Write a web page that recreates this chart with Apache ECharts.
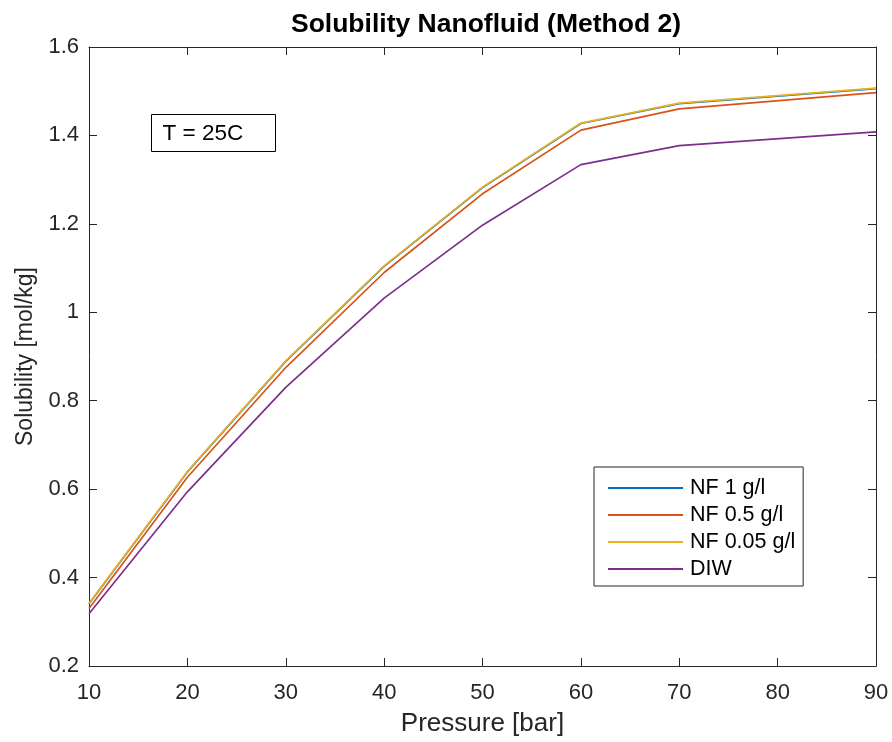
<!DOCTYPE html>
<html><head><meta charset="utf-8">
<script src="https://cdn.jsdelivr.net/npm/echarts@6/dist/echarts.min.js"></script>
<style>html,body{margin:0;padding:0;background:#fff}#c{width:892px;height:742px}</style>
</head><body><div id="c"></div>
<script>
const pressure = [10, 20, 30, 40, 50, 60, 70, 90];
const nf1 = [0.341, 0.639, 0.889, 1.104, 1.282, 1.427, 1.472, 1.506];
const nf05 = [0.330, 0.627, 0.875, 1.090, 1.268, 1.412, 1.460, 1.497];
const nf005 = [0.342, 0.640, 0.890, 1.105, 1.283, 1.428, 1.473, 1.507];
const diw = [0.318, 0.594, 0.830, 1.032, 1.197, 1.334, 1.377, 1.408];
const seriesNames = ['NF 1 g/l', 'NF 0.5 g/l', 'NF 0.05 g/l', 'DIW'];
const colors = ['#0072BD', '#D95319', '#EDB120', '#7E2F8E'];
const xTicks = {min: 10, max: 90, interval: 10};
const yTicks = {min: 0.2, max: 1.6, interval: 0.2};

const FONT = 'Liberation Sans, Arial, Helvetica, sans-serif';
const axisCol = '#262626';
const chart = echarts.init(document.getElementById('c'), null, {renderer: 'canvas'});
const zip = a => pressure.map((p, i) => [p, a[i]]);
const allData = [nf1, nf05, nf005, diw];

const baseX = {type: 'value', min: xTicks.min, max: xTicks.max, interval: xTicks.interval,
  axisLine: {onZero: false, lineStyle: {color: axisCol, width: 1}},
  axisTick: {inside: true, length: 8, lineStyle: {color: axisCol}},
  splitLine: {show: false}};
const baseY = {type: 'value', min: yTicks.min, max: yTicks.max, interval: yTicks.interval,
  axisLine: {show: true, onZero: false, lineStyle: {color: axisCol, width: 1}},
  axisTick: {show: true, inside: true, length: 8, lineStyle: {color: axisCol}},
  splitLine: {show: false}};

chart.setOption({
  animation: false,
  backgroundColor: '#fff',
  textStyle: {fontFamily: FONT},
  title: {text: 'Solubility Nanofluid (Method 2)', left: 481, top: 6, textAlign: 'center',
    textStyle: {fontFamily: FONT, fontSize: 26.5, fontWeight: 'bold', color: '#000'}},
  grid: {left: 89, right: 16, top: 47, bottom: 74, containLabel: false},
  xAxis: [
    Object.assign({}, baseX, {position: 'bottom', name: 'Pressure [bar]', nameLocation: 'middle', nameGap: 45,
      nameTextStyle: {fontFamily: FONT, fontSize: 26, color: axisCol},
      axisLabel: {fontFamily: FONT, fontSize: 22, color: axisCol, margin: 16}}),
    Object.assign({}, baseX, {position: 'top', axisLabel: {show: false}})
  ],
  yAxis: [
    Object.assign({}, baseY, {position: 'left', name: 'Solubility [mol/kg]', nameLocation: 'middle', nameGap: 52,
      nameTextStyle: {fontFamily: FONT, fontSize: 23, color: axisCol},
      axisLabel: {fontFamily: FONT, fontSize: 22, color: axisCol, margin: 10}}),
    Object.assign({}, baseY, {position: 'right', axisLabel: {show: false}})
  ],
  legend: {
    orient: 'vertical', left: 594, top: 467,
    backgroundColor: '#fff', borderColor: axisCol, borderWidth: 1, borderRadius: 0,
    padding: [10, 8, 6, 14], itemGap: 5, itemWidth: 75, itemHeight: 2,
    icon: 'rect',
    textStyle: {fontFamily: FONT, fontSize: 21.5, color: '#000', lineHeight: 21, padding: [0, 0, 0, 2]},
    data: seriesNames
  },
  series: seriesNames.map((n, i) => ({
    name: n, type: 'line', data: zip(allData[i]), showSymbol: false, symbol: 'none',
    lineStyle: {color: colors[i], width: 1.7}, itemStyle: {color: colors[i]},
    z: i === 2 ? 4 : 3, silent: true
  })),
  graphic: [{
    type: 'group', left: 151, top: 114,
    children: [
      {type: 'rect', shape: {x: 0, y: 0, width: 124, height: 37}, style: {fill: '#fff', stroke: '#000', lineWidth: 1}},
      {type: 'text', x: 11, y: 19, style: {text: 'T = 25C', font: '22.5px ' + FONT, fill: '#000', textVerticalAlign: 'middle'}}
    ]
  }]
});
</script></body></html>
